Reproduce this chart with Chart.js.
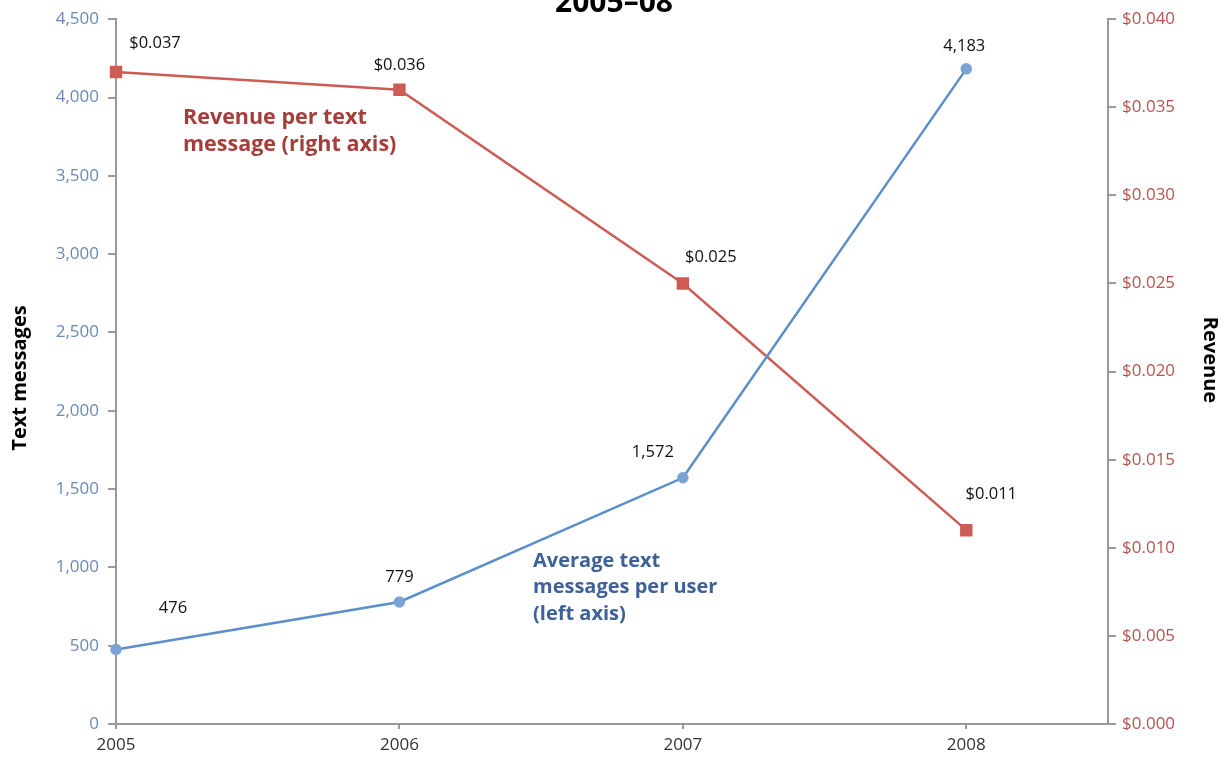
<!DOCTYPE html>
<html>
<head>
<meta charset="utf-8">
<script src="https://cdn.jsdelivr.net/npm/chart.js@4"></script>
<style>
  html, body { margin: 0; padding: 0; background: #fff; }
  #wrap { width: 1230px; height: 762px; position: relative; }
</style>
</head>
<body>
<div id="wrap"><canvas id="chart"></canvas></div>
<script>
const years = [2005, 2006, 2007, 2008];
const messagesPerUser = [476, 779, 1572, 4183];
const revenuePerMessage = [0.037, 0.036, 0.025, 0.011];

const FONT = "'Open Sans', 'Noto Sans', sans-serif";
const BLUE = '#5B8FCB';
const RED = '#CD5C55';
const AXIS = '#9a9a9a';

// offsets (px) for the value labels next to each point
const blueLabelPos = [[57, -41], [0, -25], [-30, -25], [-2, -23]];
const redLabelPos = [[39, -29], [0, -24], [28, -26], [25, -36]];

const labelsPlugin = {
  id: 'labels',
  afterDatasetsDraw(chart) {
    const ctx = chart.ctx;
    const x = chart.scales.x, yl = chart.scales.yl, yr = chart.scales.yr;
    ctx.save();

    // title (runs off the top edge)
    ctx.fillStyle = '#000';
    ctx.font = `bold 30px ${FONT}`;
    ctx.textAlign = 'center';
    ctx.textBaseline = 'alphabetic';
    ctx.fillText('2005–08', 614, 12);

    // value labels
    ctx.font = `16.5px ${FONT}`;
    ctx.fillStyle = '#111';
    ctx.textBaseline = 'middle';
    years.forEach((yr_, i) => {
      const px = x.getPixelForValue(yr_);
      ctx.fillText(messagesPerUser[i].toLocaleString('en-US'),
        px + blueLabelPos[i][0], yl.getPixelForValue(messagesPerUser[i]) + blueLabelPos[i][1]);
      ctx.fillText('$' + revenuePerMessage[i].toFixed(3),
        px + redLabelPos[i][0], yr.getPixelForValue(revenuePerMessage[i]) + redLabelPos[i][1]);
    });

    // series captions
    ctx.textAlign = 'left';
    ctx.font = `bold 21.5px ${FONT}`;
    ctx.fillStyle = '#A53E3B';
    ['Revenue per text', 'message (right axis)'].forEach((t, i) => ctx.fillText(t, 183, 118 + i * 27));
    ctx.font = `bold 20px ${FONT}`;
    ctx.fillStyle = '#3E6197';
    ['Average text', 'messages per user', '(left axis)'].forEach((t, i) => ctx.fillText(t, 533, 561 + i * 26.5));

    // axis titles
    ctx.fillStyle = '#000';
    ctx.font = `bold 20px ${FONT}`;
    ctx.textAlign = 'center';
    ctx.save();
    ctx.translate(20, 378);
    ctx.rotate(-Math.PI / 2);
    ctx.fillText('Text messages', 0, 0);
    ctx.restore();
    ctx.save();
    ctx.translate(1210, 360);
    ctx.rotate(Math.PI / 2);
    ctx.fillText('Revenue', 0, 0);
    ctx.restore();

    ctx.restore();
  }
};

new Chart(document.getElementById('chart'), {
  type: 'line',
  data: {
    datasets: [{
      label: 'Average text messages per user',
      data: years.map((y, i) => ({ x: y, y: messagesPerUser[i] })),
      yAxisID: 'yl',
      borderColor: BLUE,
      borderWidth: 2.5,
      pointStyle: 'circle',
      pointRadius: 4.5,
      pointBackgroundColor: '#7BA3D6',
      pointBorderColor: '#7BA3D6',
      clip: false,
      tension: 0
    }, {
      label: 'Revenue per text message',
      data: years.map((y, i) => ({ x: y, y: revenuePerMessage[i] })),
      yAxisID: 'yr',
      borderColor: RED,
      borderWidth: 2.5,
      pointStyle: 'rect',
      pointRadius: 7,
      pointBackgroundColor: RED,
      pointBorderColor: RED,
      clip: false,
      tension: 0
    }]
  },
  options: {
    responsive: true,
    maintainAspectRatio: false,
    animation: false,
    layout: { padding: { top: 16, bottom: 0 } },
    plugins: {
      legend: { display: false },
      tooltip: { enabled: false }
    },
    scales: {
      x: {
        type: 'linear',
        min: 2005,
        max: 2008.5,
        afterBuildTicks: s => { s.ticks = years.map(v => ({ value: v })); },
        afterFit: s => { s.height = 38; },
        ticks: {
          callback: v => String(v),
          color: '#333',
          font: { family: FONT, size: 17 },
          padding: 6,
          maxRotation: 0
        },
        grid: { drawOnChartArea: false, color: AXIS, tickLength: 5, lineWidth: 2 },
        border: { color: AXIS, width: 2 }
      },
      yl: {
        position: 'left',
        min: 0,
        max: 4500,
        afterFit: s => { s.width = 116; },
        ticks: {
          stepSize: 500,
          color: '#6B89B5',
          font: { family: FONT, size: 17 },
          padding: 9,
          callback: v => v.toLocaleString('en-US')
        },
        grid: { drawOnChartArea: false, color: AXIS, tickLength: 8, lineWidth: 2 },
        border: { color: AXIS, width: 2 }
      },
      yr: {
        position: 'right',
        min: 0,
        max: 0.04,
        afterFit: s => { s.width = 122; },
        ticks: {
          stepSize: 0.005,
          color: '#B9534F',
          font: { family: FONT, size: 17 },
          padding: 6,
          callback: v => '$' + v.toFixed(3)
        },
        grid: { drawOnChartArea: false, color: AXIS, tickLength: 8, lineWidth: 2 },
        border: { color: AXIS, width: 2 }
      }
    }
  },
  plugins: [labelsPlugin]
});
</script>
</body>
</html>
